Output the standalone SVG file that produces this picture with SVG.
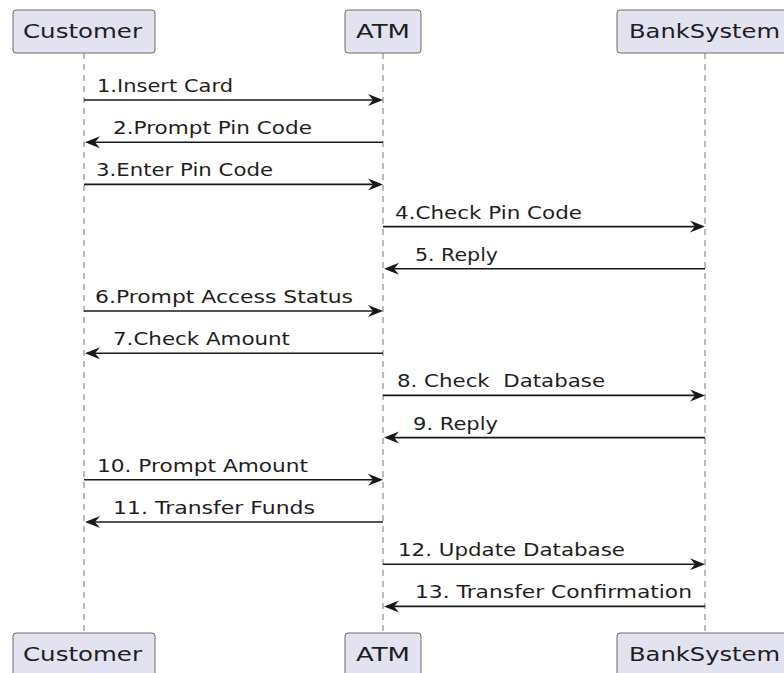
<svg xmlns="http://www.w3.org/2000/svg" width="784" height="673" viewBox="0 0 784 673">
<style>
.box{fill:#E2E2F0;stroke:#6a6a6a;stroke-width:1}
.pt{font-family:"DejaVu Sans",sans-serif;font-size:19px;fill:#1e1e1e}
.mt{font-family:"DejaVu Sans",sans-serif;font-size:17px;fill:#1e1e1e}
.life{stroke:#777;stroke-width:1;stroke-dasharray:6,5;fill:none}
.msg{stroke:#181818;stroke-width:1.6;fill:none}
.ah{fill:#181818}
</style>
<rect width="784" height="673" fill="#ffffff"/>
<g id="lifelines">
<line class="life" x1="84" y1="53" x2="84" y2="633"/>
<line class="life" x1="383" y1="53" x2="383" y2="633"/>
<line class="life" x1="705" y1="53" x2="705" y2="633"/>
</g>
<g id="customer-top"><rect class="box" x="13" y="10" width="142" height="43" rx="3"/><text class="pt" x="23" y="38" textLength="119" lengthAdjust="spacingAndGlyphs">Customer</text></g>
<g id="atm-top"><rect class="box" x="345" y="10" width="76" height="43" rx="3"/><text class="pt" x="356" y="38" textLength="54" lengthAdjust="spacingAndGlyphs">ATM</text></g>
<g id="bank-top"><rect class="box" x="617" y="10" width="180" height="43" rx="3"/><text class="pt" x="629" y="38" textLength="151" lengthAdjust="spacingAndGlyphs">BankSystem</text></g>
<g id="customer-bottom"><rect class="box" x="13" y="633" width="142" height="43" rx="3"/><text class="pt" x="23" y="661" textLength="119" lengthAdjust="spacingAndGlyphs">Customer</text></g>
<g id="atm-bottom"><rect class="box" x="345" y="633" width="76" height="43" rx="3"/><text class="pt" x="356" y="661" textLength="54" lengthAdjust="spacingAndGlyphs">ATM</text></g>
<g id="bank-bottom"><rect class="box" x="617" y="633" width="180" height="43" rx="3"/><text class="pt" x="629" y="661" textLength="151" lengthAdjust="spacingAndGlyphs">BankSystem</text></g>
<g id="connectors">
<line class="msg" x1="84" y1="100" x2="380" y2="100"/><polygon class="ah" points="383,100 368,94 373,100 368,106"/>
<text class="mt" x="97" y="92" textLength="136" lengthAdjust="spacingAndGlyphs">1.Insert Card</text>
<line class="msg" x1="87" y1="142.2" x2="383" y2="142.2"/><polygon class="ah" points="85,142.2 100,136.2 95,142.2 100,148.2"/>
<text class="mt" x="113" y="134.2" textLength="199" lengthAdjust="spacingAndGlyphs">2.Prompt Pin Code</text>
<line class="msg" x1="84" y1="184.4" x2="380" y2="184.4"/><polygon class="ah" points="383,184.4 368,178.4 373,184.4 368,190.4"/>
<text class="mt" x="96" y="176.4" textLength="177" lengthAdjust="spacingAndGlyphs">3.Enter Pin Code</text>
<line class="msg" x1="383" y1="226.6" x2="702" y2="226.6"/><polygon class="ah" points="705,226.6 690,220.6 695,226.6 690,232.6"/>
<text class="mt" x="395" y="218.6" textLength="187" lengthAdjust="spacingAndGlyphs">4.Check Pin Code</text>
<line class="msg" x1="387" y1="268.8" x2="705" y2="268.8"/><polygon class="ah" points="384,268.8 399,262.8 394,268.8 399,274.8"/>
<text class="mt" x="415" y="260.8" textLength="83" lengthAdjust="spacingAndGlyphs">5. Reply</text>
<line class="msg" x1="84" y1="311" x2="380" y2="311"/><polygon class="ah" points="383,311 368,305 373,311 368,317"/>
<text class="mt" x="95" y="303" textLength="258" lengthAdjust="spacingAndGlyphs">6.Prompt Access Status</text>
<line class="msg" x1="87" y1="353.2" x2="383" y2="353.2"/><polygon class="ah" points="85,353.2 100,347.2 95,353.2 100,359.2"/>
<text class="mt" x="113" y="345.2" textLength="177" lengthAdjust="spacingAndGlyphs">7.Check Amount</text>
<line class="msg" x1="383" y1="395.4" x2="702" y2="395.4"/><polygon class="ah" points="705,395.4 690,389.4 695,395.4 690,401.4"/>
<text class="mt" x="397" y="387.4" textLength="208" lengthAdjust="spacingAndGlyphs" xml:space="preserve">8. Check  Database</text>
<line class="msg" x1="387" y1="437.6" x2="705" y2="437.6"/><polygon class="ah" points="384,437.6 399,431.6 394,437.6 399,443.6"/>
<text class="mt" x="413" y="429.6" textLength="85" lengthAdjust="spacingAndGlyphs">9. Reply</text>
<line class="msg" x1="84" y1="479.8" x2="380" y2="479.8"/><polygon class="ah" points="383,479.8 368,473.8 373,479.8 368,485.8"/>
<text class="mt" x="97" y="471.8" textLength="211" lengthAdjust="spacingAndGlyphs">10. Prompt Amount</text>
<line class="msg" x1="87" y1="522" x2="383" y2="522"/><polygon class="ah" points="85,522 100,516 95,522 100,528"/>
<text class="mt" x="113" y="514" textLength="202" lengthAdjust="spacingAndGlyphs">11. Transfer Funds</text>
<line class="msg" x1="383" y1="564.2" x2="702" y2="564.2"/><polygon class="ah" points="705,564.2 690,558.2 695,564.2 690,570.2"/>
<text class="mt" x="398" y="556.2" textLength="227" lengthAdjust="spacingAndGlyphs">12. Update Database</text>
<line class="msg" x1="387" y1="606.4" x2="705" y2="606.4"/><polygon class="ah" points="384,606.4 399,600.4 394,606.4 399,612.4"/>
<text class="mt" x="415" y="598.4" textLength="277" lengthAdjust="spacingAndGlyphs">13. Transfer Confirmation</text>
</g>
</svg>
